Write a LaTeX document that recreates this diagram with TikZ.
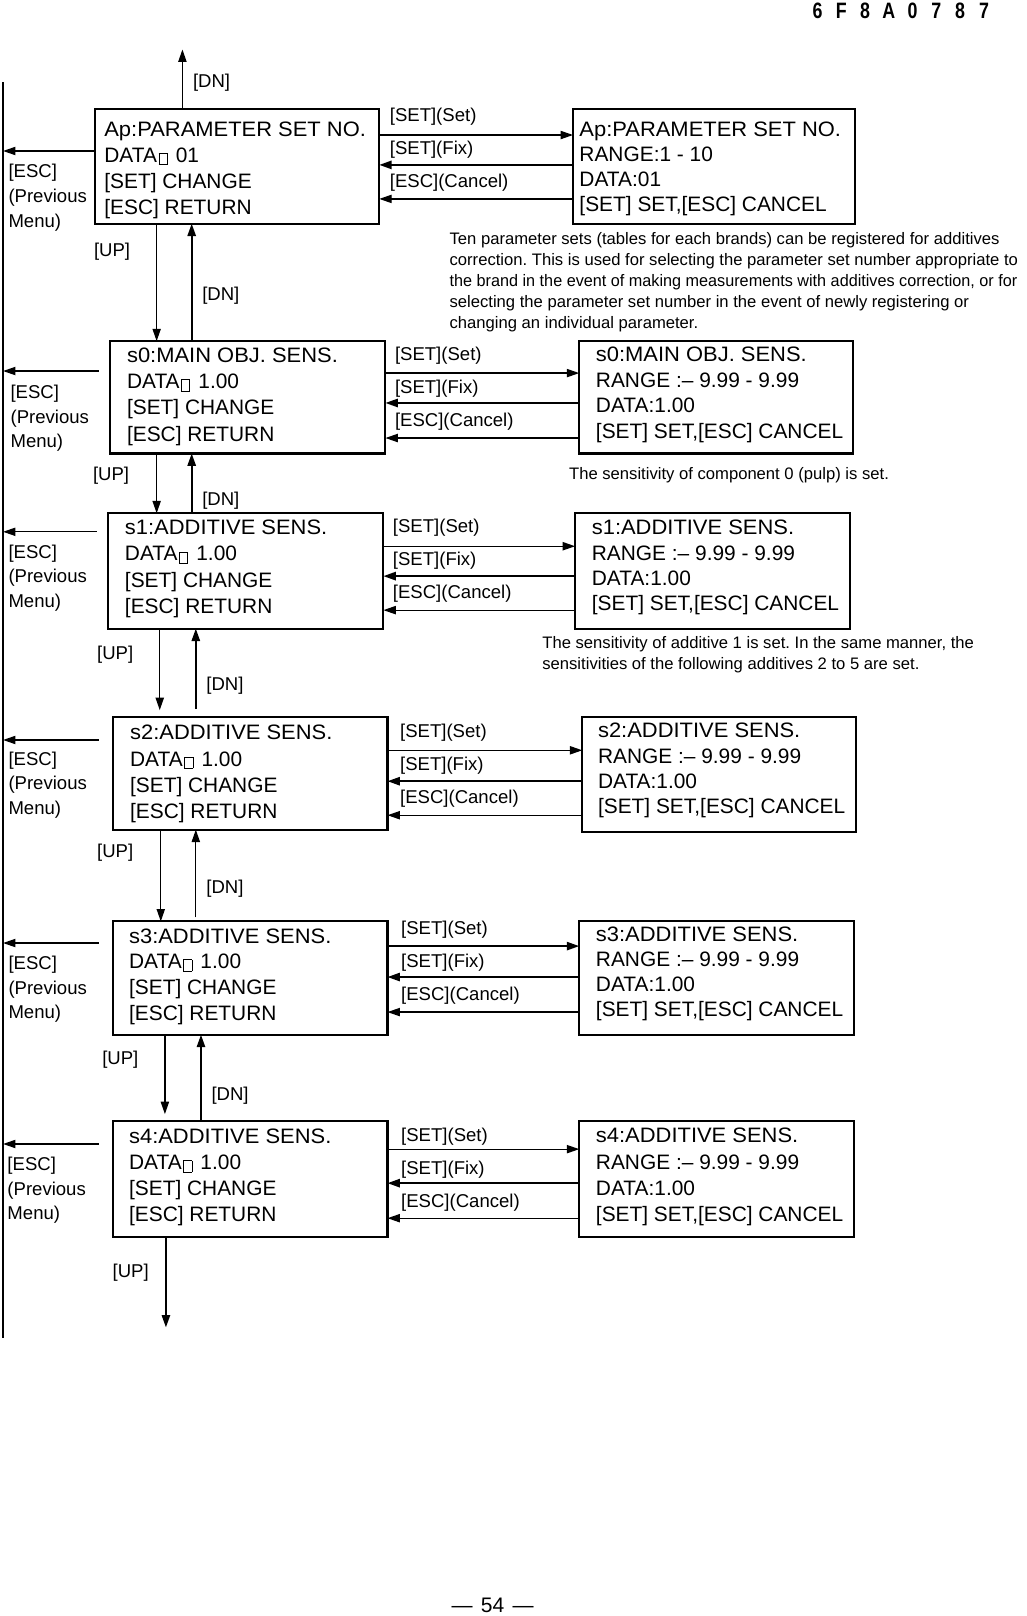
\documentclass[tikz,border=0pt]{standalone}
\usepackage{fontspec}
\setmainfont{Liberation Sans}
\usetikzlibrary{arrows.meta}
\newdimen\unitpx \unitpx=0.75pt
\newcommand\tofu{\kern0.08em\raisebox{-0.1em}{\setlength\fboxsep{0pt}\setlength\fboxrule{0.45pt}\fbox{\rule{0pt}{0.52em}\hspace{0.36em}}}\hspace{0.4em}}
\newcommand\ttl[1]{\scalebox{1.05}[1]{#1}}
\newcommand\lcdtext[8]{%
  \node[lcd] (#1-1) at ({#2},{#3}) {\ttl{#5}};
  \node[lcd] (#1-2) at ({#2},{#3+#4}) {#6};
  \node[lcd] (#1-3) at ({#2},{#3+2*#4}) {#7};
  \node[lcd] (#1-4) at ({#2},{#3+3*#4}) {#8};}
\newcommand\esclbl[3]{%
  \node[lbl] (#1-1) at ({#2},{#3}) {[ESC]};
  \node[lbl] (#1-2) at ({#2},{#3+24}) {(Previous};
  \node[lbl] (#1-3) at ({#2},{#3+48}) {Menu)};}
\newcommand\keylbl[3]{%
  \node[lbl] (#1-1) at ({#2},{#3}) {[SET](Set)};
  \node[lbl] (#1-2) at ({#2},{#3+32}) {[SET](Fix)};
  \node[lbl] (#1-3) at ({#2},{#3+64}) {[ESC](Cancel)};}
\begin{document}
\frenchspacing
\begin{tikzpicture}[x=0.75pt,y=-0.75pt,
  lcdbox/.style={draw, line width=1.5pt, inner sep=0pt, outer sep=0pt, anchor=north west},
  lcd/.style={font=\fontsize{15.2pt}{18pt}\selectfont, inner sep=0pt, anchor=base west},
  lbl/.style={font=\fontsize{13.5pt}{16pt}\selectfont, inner sep=0pt, anchor=base west},
  note/.style={font=\fontsize{12.1pt}{15pt}\selectfont, inner sep=0pt, anchor=base west},
  arr/.style={line width=0.9pt, -{Triangle[length=9pt,width=6pt]}},
  arrb/.style={arr, line width=1.4pt}]
\fill[white] (0,0) rectangle (996,1568);
\useasboundingbox (0,0) rectangle (996,1568);

% header and footer
\node[inner sep=0pt, anchor=base, font=\fontsize{16.2pt}{18pt}\selectfont\bfseries] (hdr) at (874,17.7)
  {\makebox[17.3pt]{\scalebox{0.8}[1]{6}}\makebox[17.3pt]{\scalebox{0.8}[1]{F}}\makebox[17.3pt]{\scalebox{0.8}[1]{8}}\makebox[17.3pt]{\scalebox{0.8}[1]{A}}\makebox[17.3pt]{\scalebox{0.8}[1]{0}}\makebox[17.3pt]{\scalebox{0.8}[1]{7}}\makebox[17.3pt]{\scalebox{0.8}[1]{8}}\makebox[17.3pt]{\scalebox{0.8}[1]{7}}};
\node[inner sep=0pt, anchor=base, font=\fontsize{15.3pt}{18pt}\selectfont] (ftr) at (478,1565) {—\hspace{6pt}54\hspace{6pt}—};

% spine
\coordinate (spT) at (3,80);
\coordinate (spB) at (3,1298);
\draw[line width=1.5pt] (spT) -- (spB);

% boxes
\node[lcdbox, minimum width=276\unitpx, minimum height=111\unitpx] (A0) at (92,106) {};
\node[lcdbox, minimum width=274\unitpx, minimum height=111\unitpx] (B0) at (556,106) {};
\node[lcdbox, minimum width=267\unitpx, minimum height=109\unitpx] (A1) at (107,331) {};
\node[lcdbox, minimum width=266\unitpx, minimum height=109\unitpx] (B1) at (562,331) {};
\node[lcdbox, minimum width=267\unitpx, minimum height=112\unitpx] (A2) at (105,498) {};
\node[lcdbox, minimum width=267\unitpx, minimum height=112\unitpx] (B2) at (558,498) {};
\node[lcdbox, minimum width=266\unitpx, minimum height=109\unitpx] (A3) at (110,696) {};
\node[lcdbox, minimum width=266\unitpx, minimum height=111\unitpx] (B3) at (565,696) {};
\node[lcdbox, minimum width=266\unitpx, minimum height=110\unitpx] (A4) at (110,894) {};
\node[lcdbox, minimum width=267\unitpx, minimum height=110\unitpx] (B4) at (562,894) {};
\node[lcdbox, minimum width=266\unitpx, minimum height=112\unitpx] (A5) at (110,1088) {};
\node[lcdbox, minimum width=267\unitpx, minimum height=112\unitpx] (B5) at (562,1088) {};

% box texts
\lcdtext{ta0}{101}{132}{25.3}{Ap:PARAMETER SET NO.}{DATA\tofu 01}{[SET] CHANGE}{[ESC] RETURN}
\lcdtext{tb0}{562}{132}{24.3}{Ap:PARAMETER SET NO.}{RANGE:1 - 10}{DATA:01}{[SET] SET,[ESC] CANCEL}
\lcdtext{ta1}{123}{352}{25.3}{s0:MAIN OBJ. SENS.}{DATA\tofu 1.00}{[SET] CHANGE}{[ESC] RETURN}
\lcdtext{tb1}{578}{351}{24.7}{s0:MAIN OBJ. SENS.}{RANGE :– 9.99 - 9.99}{DATA:1.00}{[SET] SET,[ESC] CANCEL}
\lcdtext{ta2}{121}{519}{25.3}{s1:ADDITIVE SENS.}{DATA\tofu 1.00}{[SET] CHANGE}{[ESC] RETURN}
\lcdtext{tb2}{574}{519}{24.4}{s1:ADDITIVE SENS.}{RANGE :– 9.99 - 9.99}{DATA:1.00}{[SET] SET,[ESC] CANCEL}
\lcdtext{ta3}{126}{718}{25.3}{s2:ADDITIVE SENS.}{DATA\tofu 1.00}{[SET] CHANGE}{[ESC] RETURN}
\lcdtext{tb3}{580}{716}{24.4}{s2:ADDITIVE SENS.}{RANGE :– 9.99 - 9.99}{DATA:1.00}{[SET] SET,[ESC] CANCEL}
\lcdtext{ta4}{125}{915}{25}{s3:ADDITIVE SENS.}{DATA\tofu 1.00}{[SET] CHANGE}{[ESC] RETURN}
\lcdtext{tb4}{578}{914}{24}{s3:ADDITIVE SENS.}{RANGE :– 9.99 - 9.99}{DATA:1.00}{[SET] SET,[ESC] CANCEL}
\lcdtext{ta5}{125}{1110}{25}{s4:ADDITIVE SENS.}{DATA\tofu 1.00}{[SET] CHANGE}{[ESC] RETURN}
\lcdtext{tb5}{578}{1109}{25.3}{s4:ADDITIVE SENS.}{RANGE :– 9.99 - 9.99}{DATA:1.00}{[SET] SET,[ESC] CANCEL}

% horizontal key arrows
\draw[arr]  (A0.east |- 0,131) -- (B0.west |- 0,131);
\draw[arrb] (B0.west |- 0,160) -- (A0.east |- 0,160);
\draw[arr]  (B0.west |- 0,193) -- (A0.east |- 0,193);
\draw[arr]  (A1.east |- 0,362) -- (B1.west |- 0,362);
\draw[arrb] (B1.west |- 0,391) -- (A1.east |- 0,391);
\draw[arr]  (B1.west |- 0,425) -- (A1.east |- 0,425);
\draw[arr]  (A2.east |- 0,530) -- (B2.west |- 0,530);
\draw[arrb] (B2.west |- 0,559) -- (A2.east |- 0,559);
\draw[arr]  (B2.west |- 0,592) -- (A2.east |- 0,592);
\draw[arr]  (A3.east |- 0,728) -- (B3.west |- 0,728);
\draw[arrb] (B3.west |- 0,758) -- (A3.east |- 0,758);
\draw[arr]  (B3.west |- 0,791) -- (A3.east |- 0,791);
\draw[arrb] (A4.east |- 0,918) -- (B4.west |- 0,918);
\draw[arrb] (B4.west |- 0,948) -- (A4.east |- 0,948);
\draw[arr]  (B4.west |- 0,982) -- (A4.east |- 0,982);
\draw[arr]  (A5.east |- 0,1115) -- (B5.west |- 0,1115);
\draw[arrb] (B5.west |- 0,1148) -- (A5.east |- 0,1148);
\draw[arr]  (B5.west |- 0,1182) -- (A5.east |- 0,1182);

% key labels
\keylbl{k0}{378}{117.5}
\keylbl{k1}{383}{349.5}
\keylbl{k2}{381}{516.5}
\keylbl{k3}{388}{715.5}
\keylbl{k4}{389}{906.5}
\keylbl{k5}{389}{1107.5}

% ESC arrows to spine
\coordinate (e0) at (92,146.5);
\coordinate (e1) at (96,360);
\coordinate (e2) at (94,516);
\coordinate (e3) at (96,718);
\coordinate (e4) at (96,915);
\coordinate (e5) at (96,1110);
\foreach \i in {0,...,5} { \draw[arr] (e\i) -- (spT |- e\i); }
\esclbl{c0}{8}{172.5}
\esclbl{c1}{10}{386.5}
\esclbl{c2}{8}{541.5}
\esclbl{c3}{8}{742.5}
\esclbl{c4}{8}{940.5}
\esclbl{c5}{7}{1135.5}

% vertical arrows
\coordinate (topend) at (177,48);
\draw[arr] (A0.north -| topend) -- (topend);
\node[lbl] (dn0) at (187,84.5) {[DN]};

\draw[arr]  (A0.south -| 152,0) -- (A1.north -| 152,0);
\draw[arrb] (A1.north -| 186,0) -- (A0.south -| 186,0);
\node[lbl] (up1) at (91,248.5) {[UP]};
\node[lbl] (dn1) at (196,291.5) {[DN]};

\draw[arr]  (A1.south -| 152,0) -- (A2.north -| 152,0);
\draw[arrb] (A2.north -| 186,0) -- (A1.south -| 186,0);
\node[lbl] (up2) at (90,466.5) {[UP]};
\node[lbl] (dn2) at (196,490.5) {[DN]};

\coordinate (u3) at (155,689);
\coordinate (d3) at (190,688);
\draw[arr]  (A2.south -| u3) -- (u3);
\draw[arrb] (d3) -- (A2.south -| d3);
\node[lbl] (up3) at (94,639.5) {[UP]};
\node[lbl] (dn3) at (200,669.5) {[DN]};

\coordinate (d4) at (190,890);
\draw[arr]  (A3.south -| 156,0) -- (A4.north -| 156,0);
\draw[arr]  (d4) -- (A3.south -| d4);
\node[lbl] (up4) at (94,832.5) {[UP]};
\node[lbl] (dn4) at (200,866.5) {[DN]};

\coordinate (u5) at (160,1081);
\draw[arr]  (A4.south -| u5) -- (u5);
\draw[arrb] (A5.north -| 195,0) -- (A4.south -| 195,0);
\node[lbl] (up5) at (99,1032.5) {[UP]};
\node[lbl] (dn5) at (205,1067.5) {[DN]};

\coordinate (u6) at (161,1288);
\draw[arrb] (A5.south -| u6) -- (u6);
\node[lbl] (up6) at (109,1239.5) {[UP]};

% notes
\node[note] (n1a) at (436,237) {Ten parameter sets (tables for each brands) can be registered for additives};
\node[note] (n1b) at (436,257.5) {correction. This is used for selecting the parameter set number appropriate to};
\node[note] (n1c) at (436,278) {\scalebox{0.975}[1]{the brand in the event of making measurements with additives correction, or for}};
\node[note] (n1d) at (436,298.5) {selecting the parameter set number in the event of newly registering or};
\node[note] (n1e) at (436,319) {changing an individual parameter.};
\node[note] (n2) at (552,465) {The sensitivity of component 0 (pulp) is set.};
\node[note] (n3a) at (526,629) {The sensitivity of additive 1 is set. In the same manner, the};
\node[note] (n3b) at (526,649.5) {sensitivities of the following additives 2 to 5 are set.};
\end{tikzpicture}
\end{document}
